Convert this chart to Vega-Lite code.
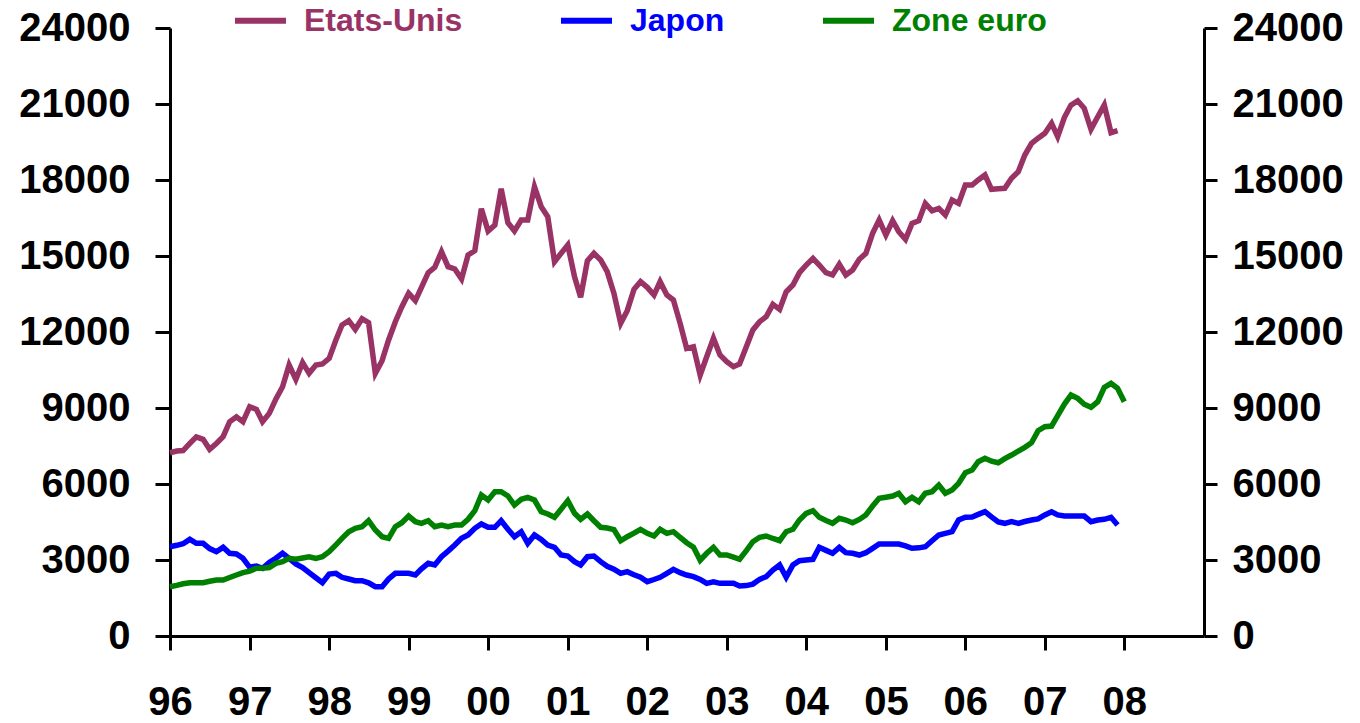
{
 "$schema": "https://vega.github.io/schema/vega-lite/v6.json",
 "autosize": "none",
 "width": 1034,
 "height": 608,
 "padding": {"left": 170, "top": 28, "right": 156, "bottom": 87},
 "background": "white",
 "config": {
  "view": {"stroke": null},
  "axis": {"labelFont": "Liberation Sans", "labelFontWeight": "bold", "labelFontSize": 40, "labelColor": "black", "domainColor": "black", "domainWidth": 3, "tickColor": "black", "tickWidth": 3, "grid": false, "title": null}
 },
 "data": {"values": [
  {"d":"1996-01-01","Etats-Unis":7235,"Japon":3525,"Zone euro":1946},
  {"d":"1996-02-01","Etats-Unis":7300,"Japon":3580,"Zone euro":2000},
  {"d":"1996-03-01","Etats-Unis":7320,"Japon":3640,"Zone euro":2060},
  {"d":"1996-04-01","Etats-Unis":7600,"Japon":3815,"Zone euro":2104},
  {"d":"1996-05-01","Etats-Unis":7860,"Japon":3658,"Zone euro":2104},
  {"d":"1996-06-01","Etats-Unis":7764,"Japon":3658,"Zone euro":2104},
  {"d":"1996-07-01","Etats-Unis":7369,"Japon":3450,"Zone euro":2160},
  {"d":"1996-08-01","Etats-Unis":7600,"Japon":3328,"Zone euro":2210},
  {"d":"1996-09-01","Etats-Unis":7867,"Japon":3500,"Zone euro":2210},
  {"d":"1996-10-01","Etats-Unis":8459,"Japon":3264,"Zone euro":2310},
  {"d":"1996-11-01","Etats-Unis":8650,"Japon":3237,"Zone euro":2408},
  {"d":"1996-12-01","Etats-Unis":8459,"Japon":3066,"Zone euro":2500},
  {"d":"1997-01-01","Etats-Unis":9051,"Japon":2711,"Zone euro":2560},
  {"d":"1997-02-01","Etats-Unis":8946,"Japon":2763,"Zone euro":2671},
  {"d":"1997-03-01","Etats-Unis":8459,"Japon":2671,"Zone euro":2671},
  {"d":"1997-04-01","Etats-Unis":8788,"Japon":2900,"Zone euro":2700},
  {"d":"1997-05-01","Etats-Unis":9350,"Japon":3066,"Zone euro":2868},
  {"d":"1997-06-01","Etats-Unis":9841,"Japon":3264,"Zone euro":2933},
  {"d":"1997-07-01","Etats-Unis":10697,"Japon":3066,"Zone euro":3066},
  {"d":"1997-08-01","Etats-Unis":10131,"Japon":2842,"Zone euro":3027},
  {"d":"1997-09-01","Etats-Unis":10789,"Japon":2700,"Zone euro":3080},
  {"d":"1997-10-01","Etats-Unis":10368,"Japon":2499,"Zone euro":3130},
  {"d":"1997-11-01","Etats-Unis":10697,"Japon":2300,"Zone euro":3066},
  {"d":"1997-12-01","Etats-Unis":10736,"Japon":2104,"Zone euro":3130},
  {"d":"1998-01-01","Etats-Unis":10960,"Japon":2447,"Zone euro":3328},
  {"d":"1998-02-01","Etats-Unis":11684,"Japon":2473,"Zone euro":3600},
  {"d":"1998-03-01","Etats-Unis":12276,"Japon":2317,"Zone euro":3856},
  {"d":"1998-04-01","Etats-Unis":12446,"Japon":2250,"Zone euro":4117},
  {"d":"1998-05-01","Etats-Unis":12105,"Japon":2183,"Zone euro":4251},
  {"d":"1998-06-01","Etats-Unis":12525,"Japon":2183,"Zone euro":4314},
  {"d":"1998-07-01","Etats-Unis":12366,"Japon":2100,"Zone euro":4551},
  {"d":"1998-08-01","Etats-Unis":10368,"Japon":1946,"Zone euro":4184},
  {"d":"1998-09-01","Etats-Unis":10868,"Japon":1946,"Zone euro":3919},
  {"d":"1998-10-01","Etats-Unis":11684,"Japon":2250,"Zone euro":3856},
  {"d":"1998-11-01","Etats-Unis":12407,"Japon":2473,"Zone euro":4314},
  {"d":"1998-12-01","Etats-Unis":12999,"Japon":2473,"Zone euro":4472},
  {"d":"1999-01-01","Etats-Unis":13526,"Japon":2473,"Zone euro":4736},
  {"d":"1999-02-01","Etats-Unis":13236,"Japon":2408,"Zone euro":4512},
  {"d":"1999-03-01","Etats-Unis":13763,"Japon":2650,"Zone euro":4448},
  {"d":"1999-04-01","Etats-Unis":14341,"Japon":2868,"Zone euro":4550},
  {"d":"1999-05-01","Etats-Unis":14550,"Japon":2802,"Zone euro":4314},
  {"d":"1999-06-01","Etats-Unis":15170,"Japon":3130,"Zone euro":4381},
  {"d":"1999-07-01","Etats-Unis":14578,"Japon":3350,"Zone euro":4314},
  {"d":"1999-08-01","Etats-Unis":14486,"Japon":3592,"Zone euro":4381},
  {"d":"1999-09-01","Etats-Unis":14091,"Japon":3856,"Zone euro":4381},
  {"d":"1999-10-01","Etats-Unis":15038,"Japon":3987,"Zone euro":4606},
  {"d":"1999-11-01","Etats-Unis":15209,"Japon":4251,"Zone euro":4946},
  {"d":"1999-12-01","Etats-Unis":16866,"Japon":4421,"Zone euro":5565},
  {"d":"2000-01-01","Etats-Unis":15986,"Japon":4290,"Zone euro":5368},
  {"d":"2000-02-01","Etats-Unis":16222,"Japon":4290,"Zone euro":5696},
  {"d":"2000-03-01","Etats-Unis":17657,"Japon":4551,"Zone euro":5696},
  {"d":"2000-04-01","Etats-Unis":16314,"Japon":4211,"Zone euro":5526},
  {"d":"2000-05-01","Etats-Unis":15986,"Japon":3919,"Zone euro":5171},
  {"d":"2000-06-01","Etats-Unis":16420,"Japon":4117,"Zone euro":5395},
  {"d":"2000-07-01","Etats-Unis":16420,"Japon":3658,"Zone euro":5474},
  {"d":"2000-08-01","Etats-Unis":17734,"Japon":3987,"Zone euro":5368},
  {"d":"2000-09-01","Etats-Unis":16945,"Japon":3815,"Zone euro":4906},
  {"d":"2000-10-01","Etats-Unis":16550,"Japon":3592,"Zone euro":4815},
  {"d":"2000-11-01","Etats-Unis":14774,"Japon":3500,"Zone euro":4685},
  {"d":"2000-12-01","Etats-Unis":15104,"Japon":3197,"Zone euro":5001},
  {"d":"2001-01-01","Etats-Unis":15433,"Japon":3158,"Zone euro":5342},
  {"d":"2001-02-01","Etats-Unis":14182,"Japon":2933,"Zone euro":4843},
  {"d":"2001-03-01","Etats-Unis":13368,"Japon":2802,"Zone euro":4606},
  {"d":"2001-04-01","Etats-Unis":14813,"Japon":3130,"Zone euro":4815},
  {"d":"2001-05-01","Etats-Unis":15104,"Japon":3158,"Zone euro":4551},
  {"d":"2001-06-01","Etats-Unis":14841,"Japon":2933,"Zone euro":4290},
  {"d":"2001-07-01","Etats-Unis":14380,"Japon":2750,"Zone euro":4260},
  {"d":"2001-08-01","Etats-Unis":13526,"Japon":2640,"Zone euro":4200},
  {"d":"2001-09-01","Etats-Unis":12341,"Japon":2473,"Zone euro":3761},
  {"d":"2001-10-01","Etats-Unis":12841,"Japon":2538,"Zone euro":3919},
  {"d":"2001-11-01","Etats-Unis":13684,"Japon":2420,"Zone euro":4060},
  {"d":"2001-12-01","Etats-Unis":13986,"Japon":2317,"Zone euro":4211},
  {"d":"2002-01-01","Etats-Unis":13763,"Japon":2143,"Zone euro":4054},
  {"d":"2002-02-01","Etats-Unis":13460,"Japon":2230,"Zone euro":3947},
  {"d":"2002-03-01","Etats-Unis":13986,"Japon":2317,"Zone euro":4211},
  {"d":"2002-04-01","Etats-Unis":13460,"Japon":2473,"Zone euro":4054},
  {"d":"2002-05-01","Etats-Unis":13263,"Japon":2631,"Zone euro":4117},
  {"d":"2002-06-01","Etats-Unis":12341,"Japon":2500,"Zone euro":3896},
  {"d":"2002-07-01","Etats-Unis":11355,"Japon":2408,"Zone euro":3683},
  {"d":"2002-08-01","Etats-Unis":11419,"Japon":2342,"Zone euro":3510},
  {"d":"2002-09-01","Etats-Unis":10302,"Japon":2236,"Zone euro":2990},
  {"d":"2002-10-01","Etats-Unis":11024,"Japon":2079,"Zone euro":3264},
  {"d":"2002-11-01","Etats-Unis":11750,"Japon":2143,"Zone euro":3500},
  {"d":"2002-12-01","Etats-Unis":11091,"Japon":2079,"Zone euro":3197},
  {"d":"2003-01-01","Etats-Unis":10828,"Japon":2079,"Zone euro":3197},
  {"d":"2003-02-01","Etats-Unis":10631,"Japon":2079,"Zone euro":3110},
  {"d":"2003-03-01","Etats-Unis":10736,"Japon":1974,"Zone euro":3027},
  {"d":"2003-04-01","Etats-Unis":11419,"Japon":1990,"Zone euro":3367},
  {"d":"2003-05-01","Etats-Unis":12078,"Japon":2050,"Zone euro":3722},
  {"d":"2003-06-01","Etats-Unis":12407,"Japon":2236,"Zone euro":3896},
  {"d":"2003-07-01","Etats-Unis":12604,"Japon":2342,"Zone euro":3947},
  {"d":"2003-08-01","Etats-Unis":13092,"Japon":2600,"Zone euro":3850},
  {"d":"2003-09-01","Etats-Unis":12894,"Japon":2802,"Zone euro":3761},
  {"d":"2003-10-01","Etats-Unis":13591,"Japon":2317,"Zone euro":4117},
  {"d":"2003-11-01","Etats-Unis":13855,"Japon":2802,"Zone euro":4211},
  {"d":"2003-12-01","Etats-Unis":14341,"Japon":2972,"Zone euro":4579},
  {"d":"2004-01-01","Etats-Unis":14644,"Japon":3000,"Zone euro":4843},
  {"d":"2004-02-01","Etats-Unis":14907,"Japon":3027,"Zone euro":4946},
  {"d":"2004-03-01","Etats-Unis":14644,"Japon":3500,"Zone euro":4685},
  {"d":"2004-04-01","Etats-Unis":14341,"Japon":3380,"Zone euro":4560},
  {"d":"2004-05-01","Etats-Unis":14249,"Japon":3264,"Zone euro":4448},
  {"d":"2004-06-01","Etats-Unis":14671,"Japon":3500,"Zone euro":4645},
  {"d":"2004-07-01","Etats-Unis":14249,"Japon":3288,"Zone euro":4579},
  {"d":"2004-08-01","Etats-Unis":14447,"Japon":3264,"Zone euro":4472},
  {"d":"2004-09-01","Etats-Unis":14868,"Japon":3197,"Zone euro":4600},
  {"d":"2004-10-01","Etats-Unis":15104,"Japon":3288,"Zone euro":4776},
  {"d":"2004-11-01","Etats-Unis":15893,"Japon":3460,"Zone euro":5131},
  {"d":"2004-12-01","Etats-Unis":16420,"Japon":3631,"Zone euro":5434},
  {"d":"2005-01-01","Etats-Unis":15828,"Japon":3631,"Zone euro":5480},
  {"d":"2005-02-01","Etats-Unis":16393,"Japon":3631,"Zone euro":5526},
  {"d":"2005-03-01","Etats-Unis":15959,"Japon":3631,"Zone euro":5632},
  {"d":"2005-04-01","Etats-Unis":15657,"Japon":3560,"Zone euro":5301},
  {"d":"2005-05-01","Etats-Unis":16288,"Japon":3461,"Zone euro":5474},
  {"d":"2005-06-01","Etats-Unis":16393,"Japon":3480,"Zone euro":5301},
  {"d":"2005-07-01","Etats-Unis":17079,"Japon":3525,"Zone euro":5632},
  {"d":"2005-08-01","Etats-Unis":16787,"Japon":3760,"Zone euro":5696},
  {"d":"2005-09-01","Etats-Unis":16880,"Japon":3987,"Zone euro":5960},
  {"d":"2005-10-01","Etats-Unis":16617,"Japon":4050,"Zone euro":5632},
  {"d":"2005-11-01","Etats-Unis":17209,"Japon":4117,"Zone euro":5763},
  {"d":"2005-12-01","Etats-Unis":17079,"Japon":4579,"Zone euro":6027},
  {"d":"2006-01-01","Etats-Unis":17801,"Japon":4685,"Zone euro":6446},
  {"d":"2006-02-01","Etats-Unis":17801,"Japon":4700,"Zone euro":6552},
  {"d":"2006-03-01","Etats-Unis":18000,"Japon":4800,"Zone euro":6880},
  {"d":"2006-04-01","Etats-Unis":18196,"Japon":4906,"Zone euro":7014},
  {"d":"2006-05-01","Etats-Unis":17631,"Japon":4700,"Zone euro":6900},
  {"d":"2006-06-01","Etats-Unis":17650,"Japon":4500,"Zone euro":6840},
  {"d":"2006-07-01","Etats-Unis":17671,"Japon":4448,"Zone euro":7000},
  {"d":"2006-08-01","Etats-Unis":18066,"Japon":4512,"Zone euro":7144},
  {"d":"2006-09-01","Etats-Unis":18327,"Japon":4448,"Zone euro":7300},
  {"d":"2006-10-01","Etats-Unis":18986,"Japon":4520,"Zone euro":7448},
  {"d":"2006-11-01","Etats-Unis":19447,"Japon":4579,"Zone euro":7630},
  {"d":"2006-12-01","Etats-Unis":19650,"Japon":4620,"Zone euro":8103},
  {"d":"2007-01-01","Etats-Unis":19842,"Japon":4780,"Zone euro":8261},
  {"d":"2007-02-01","Etats-Unis":20237,"Japon":4906,"Zone euro":8288},
  {"d":"2007-03-01","Etats-Unis":19710,"Japon":4780,"Zone euro":8700},
  {"d":"2007-04-01","Etats-Unis":20474,"Japon":4736,"Zone euro":9157},
  {"d":"2007-05-01","Etats-Unis":20958,"Japon":4736,"Zone euro":9512},
  {"d":"2007-06-01","Etats-Unis":21129,"Japon":4736,"Zone euro":9380},
  {"d":"2007-07-01","Etats-Unis":20829,"Japon":4736,"Zone euro":9150},
  {"d":"2007-08-01","Etats-Unis":20000,"Japon":4512,"Zone euro":9027},
  {"d":"2007-09-01","Etats-Unis":20497,"Japon":4580,"Zone euro":9248},
  {"d":"2007-10-01","Etats-Unis":20958,"Japon":4606,"Zone euro":9816},
  {"d":"2007-11-01","Etats-Unis":19868,"Japon":4685,"Zone euro":9974},
  {"d":"2007-12-01","Etats-Unis":19946,"Japon":4381,"Zone euro":9777},
  {"d":"2008-01-01","Zone euro":9248}
 ]},
 "transform": [
  {"fold": ["Etats-Unis", "Japon", "Zone euro"], "as": ["series", "value"]},
  {"filter": "isValid(datum.value)"}
 ],
 "layer": [
  {
   "mark": {"type": "line", "strokeWidth": 5.5},
   "encoding": {
    "x": {
     "field": "d", "type": "temporal",
     "scale": {"type": "utc", "domain": [{"year": 1996, "month": 1, "date": 1, "utc": true}, {"year": 2009, "month": 1, "date": 1, "utc": true}]},
     "axis": {
      "values": [
       {"year": 1996, "month": 1, "date": 1, "utc": true},
       {"year": 1997, "month": 1, "date": 1, "utc": true},
       {"year": 1998, "month": 1, "date": 1, "utc": true},
       {"year": 1999, "month": 1, "date": 1, "utc": true},
       {"year": 2000, "month": 1, "date": 1, "utc": true},
       {"year": 2001, "month": 1, "date": 1, "utc": true},
       {"year": 2002, "month": 1, "date": 1, "utc": true},
       {"year": 2003, "month": 1, "date": 1, "utc": true},
       {"year": 2004, "month": 1, "date": 1, "utc": true},
       {"year": 2005, "month": 1, "date": 1, "utc": true},
       {"year": 2006, "month": 1, "date": 1, "utc": true},
       {"year": 2007, "month": 1, "date": 1, "utc": true},
       {"year": 2008, "month": 1, "date": 1, "utc": true}
      ],
      "format": "%y", "tickSize": 14, "labelPadding": 32, "labelFlush": false, "labelOverlap": false
     }
    },
    "y": {
     "field": "value", "type": "quantitative",
     "scale": {"domain": [0, 24000]},
     "axis": {"orient": "left", "values": [0, 3000, 6000, 9000, 12000, 15000, 18000, 21000, 24000], "format": "d", "tickSize": 15, "labelPadding": 25, "labelFlush": false, "labelOverlap": false}
    },
    "color": {
     "field": "series", "type": "nominal",
     "scale": {"domain": ["Etats-Unis", "Japon", "Zone euro"], "range": ["#993366", "#0000ff", "#008000"]},
     "legend": {
      "orient": "none", "legendX": 62, "legendY": -36, "direction": "horizontal", "title": null,
      "symbolType": "stroke", "symbolSize": 2601, "symbolStrokeWidth": 6,
      "labelFont": "Liberation Sans", "labelFontWeight": "bold", "labelFontSize": 32,
      "labelOffset": 15, "columnPadding": 86, "padding": 0,
      "labelColor": {"expr": "datum.label == 'Japon' ? '#0000ff' : (datum.label == 'Zone euro' ? '#008000' : '#993366')"}
     }
    }
   }
  },
  {
   "mark": {"type": "point", "opacity": 0},
   "encoding": {
    "y": {
     "field": "value", "type": "quantitative",
     "scale": {"domain": [0, 24000]},
     "axis": {"orient": "right", "values": [0, 3000, 6000, 9000, 12000, 15000, 18000, 21000, 24000], "format": "d", "tickSize": 13, "labelPadding": 15, "labelFlush": false, "labelOverlap": false}
    }
   }
  }
 ],
 "resolve": {"scale": {"y": "independent"}}
}
